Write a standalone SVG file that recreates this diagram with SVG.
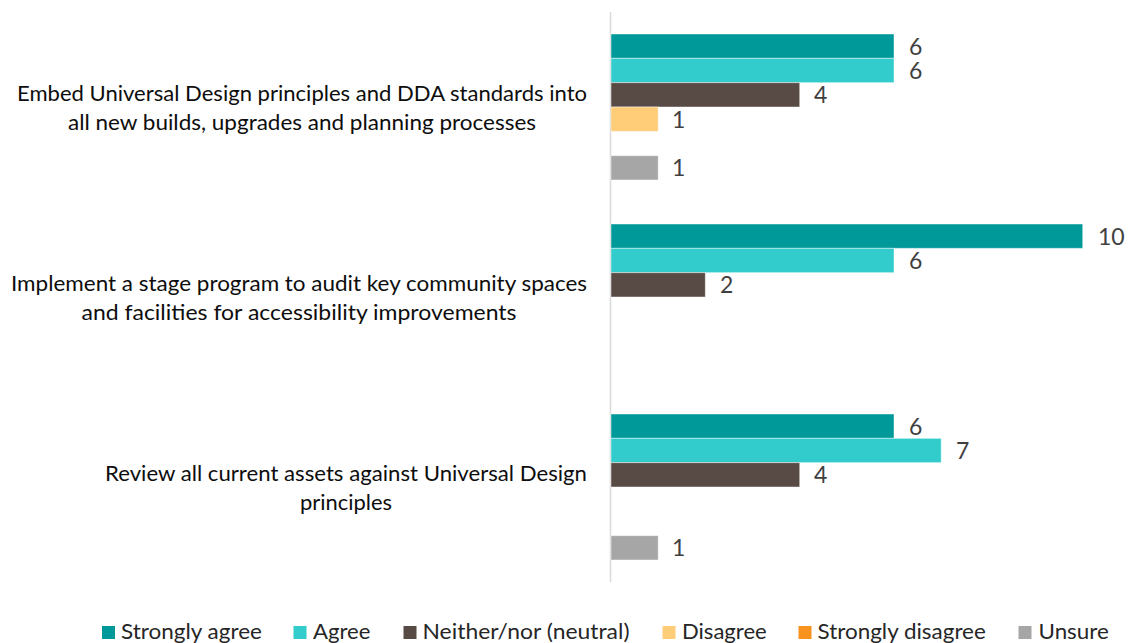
<svg xmlns="http://www.w3.org/2000/svg" width="1129" height="643" viewBox="0 0 1129 643">
<style>
  .cat { font-family: Lato, "Open Sans", "Liberation Sans", sans-serif; font-size: 22px; fill: #0d0d0d; text-anchor: middle; }
  .val { font-family: Lato, "Open Sans", "Liberation Sans", sans-serif; font-size: 23px; fill: #404040; }
  .leg { font-family: Lato, "Open Sans", "Liberation Sans", sans-serif; font-size: 22px; fill: #262626; }
  .sa { fill: #009999; }
  .ag { fill: #33CCCC; }
  .ne { fill: #584A45; }
  .di { fill: #FFCC77; }
  .sd { fill: #F7931E; }
  .un { fill: #A6A6A6; }
  rect.bar { stroke: #ffffff; stroke-opacity: 0.45; stroke-width: 1; }
</style>
<rect x="0" y="0" width="1129" height="643" fill="#ffffff"/>
<g id="axis">
  <line x1="610.5" y1="12" x2="610.5" y2="582" stroke="#d9d9d9" stroke-width="1.5"/>
</g>
<g id="category-1">
  <text class="cat" x="302" y="100.5" textLength="570" lengthAdjust="spacingAndGlyphs">Embed Universal Design principles and DDA standards into</text>
  <text class="cat" x="302" y="129.5" textLength="468" lengthAdjust="spacingAndGlyphs">all new builds, upgrades and planning processes</text>
  <rect class="bar sa" x="611" y="34" width="283" height="24.33"/>
  <rect class="bar ag" x="611" y="58.33" width="283" height="24.33"/>
  <rect class="bar ne" x="611" y="82.67" width="188.7" height="24.33"/>
  <rect class="bar di" x="611" y="107" width="47.2" height="24.33"/>
  <rect class="bar un" x="611" y="155.67" width="47.2" height="24.33"/>
  <text class="val" x="909" y="54.5">6</text>
  <text class="val" x="909" y="78.8">6</text>
  <text class="val" x="814" y="103.2">4</text>
  <text class="val" x="672" y="127.5">1</text>
  <text class="val" x="672" y="176.2">1</text>
</g>
<g id="category-2">
  <text class="cat" x="299" y="290.5" textLength="576" lengthAdjust="spacingAndGlyphs">Implement a stage program to audit key community spaces</text>
  <text class="cat" x="299" y="319.5" textLength="435" lengthAdjust="spacingAndGlyphs">and facilities for accessibility improvements</text>
  <rect class="bar sa" x="611" y="224" width="471.7" height="24.33"/>
  <rect class="bar ag" x="611" y="248.33" width="283" height="24.33"/>
  <rect class="bar ne" x="611" y="272.67" width="94.3" height="24.33"/>
  <text class="val" x="1098" y="244.5">10</text>
  <text class="val" x="909" y="268.8">6</text>
  <text class="val" x="720" y="293.2">2</text>
</g>
<g id="category-3">
  <text class="cat" x="346" y="480.5" textLength="482" lengthAdjust="spacingAndGlyphs">Review all current assets against Universal Design</text>
  <text class="cat" x="346" y="509.5" textLength="92" lengthAdjust="spacingAndGlyphs">principles</text>
  <rect class="bar sa" x="611" y="414" width="283" height="24.33"/>
  <rect class="bar ag" x="611" y="438.33" width="330.2" height="24.33"/>
  <rect class="bar ne" x="611" y="462.67" width="188.7" height="24.33"/>
  <rect class="bar un" x="611" y="535.67" width="47.2" height="24.33"/>
  <text class="val" x="909" y="434.5">6</text>
  <text class="val" x="956" y="458.8">7</text>
  <text class="val" x="814" y="483.2">4</text>
  <text class="val" x="672" y="556.2">1</text>
</g>
<g id="legend">
  <rect class="sa" x="102" y="626" width="13" height="13"/>
  <text class="leg" x="121" y="639" textLength="141" lengthAdjust="spacingAndGlyphs">Strongly agree</text>
  <rect class="ag" x="293.5" y="626" width="13" height="13"/>
  <text class="leg" x="313" y="639" textLength="57.5" lengthAdjust="spacingAndGlyphs">Agree</text>
  <rect class="ne" x="403.5" y="626" width="13" height="13"/>
  <text class="leg" x="422.5" y="639" textLength="207" lengthAdjust="spacingAndGlyphs">Neither/nor (neutral)</text>
  <rect class="di" x="662.5" y="626" width="13" height="13"/>
  <text class="leg" x="682" y="639" textLength="84.7" lengthAdjust="spacingAndGlyphs">Disagree</text>
  <rect class="sd" x="798.5" y="626" width="13" height="13"/>
  <text class="leg" x="817.5" y="639" textLength="168.3" lengthAdjust="spacingAndGlyphs">Strongly disagree</text>
  <rect class="un" x="1018.5" y="626" width="13" height="13"/>
  <text class="leg" x="1038.5" y="639" textLength="70.3" lengthAdjust="spacingAndGlyphs">Unsure</text>
</g>
</svg>
